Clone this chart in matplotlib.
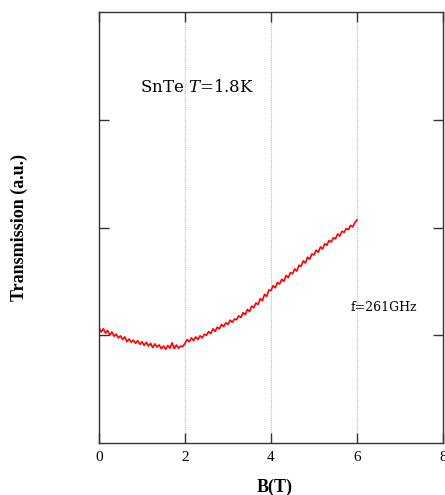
import matplotlib
matplotlib.use("Agg")
import matplotlib.pyplot as plt
import numpy as np

plt.rcParams['mathtext.fontset'] = 'dejavuserif'

# Magnetic field (T), step 0.05 T
B = np.round(np.arange(0, 6.0001, 0.05), 2)
transmission = [
    1.07, 1.03, 1.06, 1.02, 1.045, 1.00, 1.03, 0.99, 1.01, 0.975,
    0.995, 0.96, 0.985, 0.94, 0.965, 0.935, 0.955, 0.925, 0.95, 0.915,
    0.94, 0.905, 0.935, 0.90, 0.925, 0.885, 0.92, 0.89, 0.91, 0.875,
    0.90, 0.87, 0.905, 0.88, 0.93, 0.875, 0.91, 0.88, 0.9, 0.895,
    0.925, 0.96, 0.94, 0.975, 0.95, 0.985, 0.96, 0.995, 0.975, 1.01,
    1.00, 1.035, 1.015, 1.06, 1.035, 1.075, 1.06, 1.10, 1.08, 1.115,
    1.10, 1.14, 1.12, 1.15, 1.145, 1.18, 1.165, 1.21, 1.19, 1.24,
    1.22, 1.27, 1.255, 1.30, 1.285, 1.34, 1.32, 1.38, 1.36, 1.42,
    1.415, 1.46, 1.44, 1.49, 1.475, 1.52, 1.50, 1.555, 1.535, 1.58,
    1.57, 1.615, 1.595, 1.65, 1.64, 1.69, 1.67, 1.725, 1.705, 1.755,
    1.745, 1.79, 1.77, 1.82, 1.80, 1.85, 1.835, 1.88, 1.865, 1.905,
    1.895, 1.94, 1.92, 1.965, 1.955, 1.99, 1.98, 2.02, 2.005, 2.045,
    2.07,
]
x_ticks = [0, 2, 4, 6, 8]
x_tick_labels = ["0", "2", "4", "6", "8"]
y_ticks = [1, 2, 3]
grid_x = [2, 4, 6]

fig = plt.figure(figsize=(4.45, 4.95), dpi=100)
ax = fig.add_axes([99/445, 1 - 443/495, 344/445, 431/495])

for gx in grid_x:
    ax.axvline(gx, color='#b0b0f8', lw=0.8, ls=(0, (1, 1)), zorder=0)

ax.plot(B, transmission, color='red', lw=1.2)

ax.set_xlim(0, 8)
ax.set_ylim(0, 4)
ax.set_xticks(x_ticks)
ax.set_xticklabels(x_tick_labels, family='Liberation Serif', fontsize=11)
ax.set_yticks(y_ticks)
ax.set_yticklabels([])
ax.tick_params(direction='in', length=7, width=1, color='#333333',
               top=True, right=True, pad=6)
for s in ax.spines.values():
    s.set_color('#333333')
    s.set_linewidth(1)

ax.set_xlabel('B(T)', family='Liberation Serif', fontweight='bold', fontsize=13)
ax.xaxis.set_label_coords(0.51, -0.082)
ax.set_ylabel('Transmission (a.u.)', family='Liberation Serif', fontweight='bold', fontsize=13)
ax.yaxis.set_label_coords(-0.205, 0.5)

ax.text(0.95, 3.30, 'SnTe $T$=1.8K', family='DejaVu Serif', fontsize=12,
        ha='left', va='center')
ax.text(5.85, 1.26, 'f=261GHz', family='DejaVu Serif', fontsize=9,
        ha='left', va='center')

fig.savefig('out.png', dpi=100)
